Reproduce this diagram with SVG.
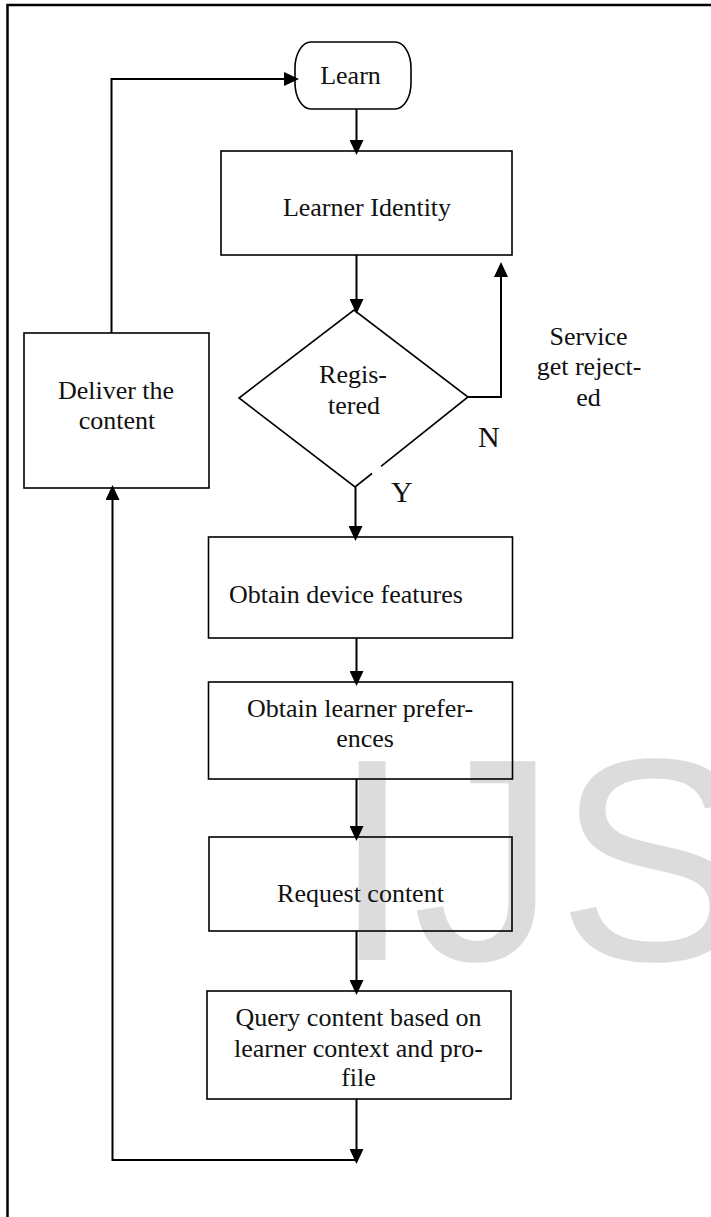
<svg xmlns="http://www.w3.org/2000/svg" width="711" height="1217" viewBox="0 0 711 1217">
  <defs>
    <marker id="arrow" markerUnits="userSpaceOnUse" markerWidth="15" markerHeight="14" refX="11" refY="7" orient="auto">
      <path d="M0,0 L15,7 L0,14 z" fill="#000"/>
    </marker>
    <style>
      .box { fill: none; stroke: #000; stroke-width: 1.6; }
      .conn { fill: none; stroke: #000; stroke-width: 2; }
      .lbl { font-family: "Liberation Serif", "Times New Roman", serif; font-size: 26px; fill: #111; text-anchor: middle; }
      .yn { font-family: "Liberation Serif", "Times New Roman", serif; font-size: 30px; fill: #111; }
      .mark { font-family: "Liberation Sans", Arial, sans-serif; font-size: 289px; fill: #dcdcdc; }
    </style>
  </defs>
  <rect width="711" height="1217" fill="#fff"/>

  <!-- faint watermark lettering behind the chart -->
  <text class="mark" x="332" y="960">IJS</text>

  <!-- page frame -->
  <path d="M7.5 1217 V5 H711" fill="none" stroke="#000" stroke-width="2.5"/>

  <g id="connectors">
    <path class="conn" d="M111.5 333 V79 H295" marker-end="url(#arrow)"/>
    <path class="conn" d="M356.5 109 V151" marker-end="url(#arrow)"/>
    <path class="conn" d="M356.5 255 V310" marker-end="url(#arrow)"/>
    <path class="conn" d="M468 397 H501 V266" marker-end="url(#arrow)"/>
    <path class="conn" d="M355.5 487 V537" marker-end="url(#arrow)"/>
    <path class="conn" d="M356.5 638 V682" marker-end="url(#arrow)"/>
    <path class="conn" d="M356.5 779 V837" marker-end="url(#arrow)"/>
    <path class="conn" d="M356.5 931 V991" marker-end="url(#arrow)"/>
    <path class="conn" d="M356.5 1099 V1160" marker-end="url(#arrow)"/>
    <path class="conn" d="M356.5 1160 H112.5 V489" marker-end="url(#arrow)"/>
  </g>

  <g id="learn">
    <rect class="box" x="295" y="42" width="116" height="67" rx="16" ry="26"/>
    <text class="lbl" x="350.5" y="84">Learn</text>
  </g>

  <g id="identity">
    <rect class="box" x="221" y="151" width="291" height="104"/>
    <text class="lbl" x="367" y="216">Learner Identity</text>
  </g>

  <g id="registered">
    <path class="box" d="M381 466.3 L468 397 L354 310 L239 398 L355 487 L372 473.5"/>
    <text class="lbl" x="353" y="383">Regis-</text>
    <text class="lbl" x="354" y="414">tered</text>
  </g>

  <g id="rejected">
    <text class="lbl" x="588.5" y="345">Service</text>
    <text class="lbl" x="589" y="375">get reject-</text>
    <text class="lbl" x="588.5" y="406">ed</text>
    <text class="yn" x="478" y="447">N</text>
    <text class="yn" x="391" y="502">Y</text>
  </g>

  <g id="deliver">
    <rect class="box" x="24" y="333" width="185" height="155"/>
    <text class="lbl" x="116" y="399">Deliver the</text>
    <text class="lbl" x="117" y="429">content</text>
  </g>

  <g id="device">
    <rect class="box" x="208.5" y="537" width="304" height="101"/>
    <text class="lbl" x="229" y="603" style="text-anchor:start">Obtain device features</text>
  </g>

  <g id="preferences">
    <rect class="box" x="208.5" y="682" width="304" height="97"/>
    <text class="lbl" x="360" y="717">Obtain learner prefer-</text>
    <text class="lbl" x="365" y="747">ences</text>
  </g>

  <g id="request">
    <rect class="box" x="209" y="837" width="303" height="94"/>
    <text class="lbl" x="360.5" y="902">Request content</text>
  </g>

  <g id="query">
    <rect class="box" x="207" y="991" width="304" height="108"/>
    <text class="lbl" x="358.5" y="1026">Query content based on</text>
    <text class="lbl" x="358.5" y="1057">learner context and pro-</text>
    <text class="lbl" x="358.5" y="1086">file</text>
  </g>
</svg>
